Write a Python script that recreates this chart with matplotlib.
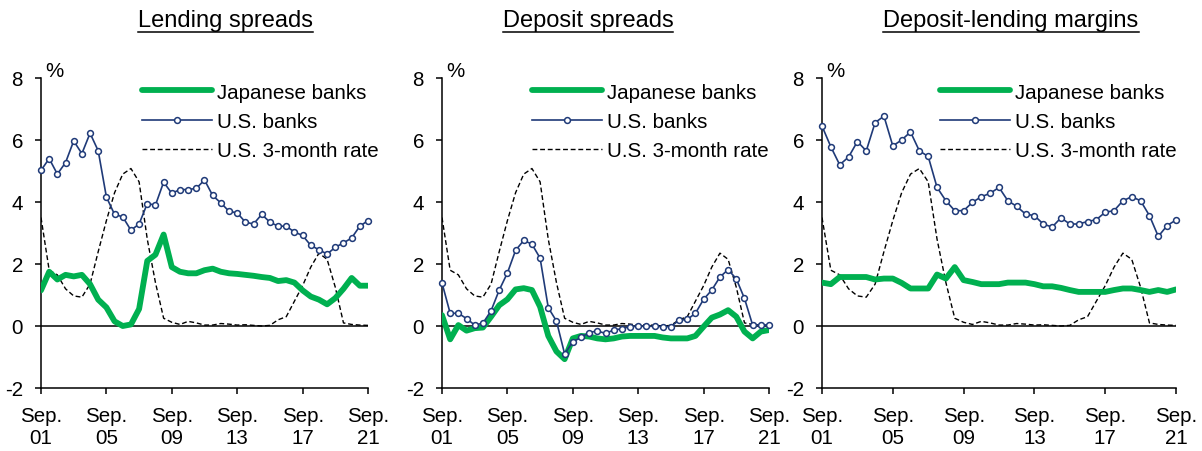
import numpy as np
import matplotlib
matplotlib.use("Agg")
import matplotlib.pyplot as plt

plt.rcParams['font.family'] = ['Liberation Sans', 'DejaVu Sans']

# semiannual points, Sep. 2001 .. Sep. 2021
periods = np.arange(41)
tick_pos = [0, 8, 16, 24, 32, 40]
tick_labels = ["Sep.\n01", "Sep.\n05", "Sep.\n09", "Sep.\n13", "Sep.\n17", "Sep.\n21"]

# U.S. 3-month rate (same in every panel)
us_rate = [3.5, 1.8, 1.65, 1.2, 0.97, 0.93, 1.35, 2.4, 3.4, 4.3, 4.9, 5.08, 4.65, 2.8, 1.4,
           0.25, 0.12, 0.05, 0.15, 0.1, 0.03, 0.03, 0.08, 0.06, 0.03, 0.04, 0.02, 0.0, 0.02,
           0.2, 0.3, 0.8, 1.3, 1.9, 2.35, 2.15, 1.25, 0.1, 0.05, 0.03, 0.02]

# Lending spreads
lend_jp = [1.15, 1.75, 1.5, 1.65, 1.6, 1.65, 1.35, 0.85, 0.6, 0.15, 0.0, 0.05, 0.55, 2.1, 2.3,
           2.95, 1.9, 1.75, 1.7, 1.7, 1.8, 1.85, 1.75, 1.7, 1.68, 1.65, 1.62, 1.58, 1.55, 1.45,
           1.48, 1.4, 1.15, 0.95, 0.85, 0.7, 0.9, 1.2, 1.55, 1.3, 1.3]
lend_us = [5.02, 5.4, 4.9, 5.27, 5.97, 5.56, 6.22, 5.65, 4.16, 3.6, 3.52, 3.09, 3.29, 3.95, 3.9,
           4.64, 4.28, 4.4, 4.4, 4.44, 4.71, 4.21, 3.97, 3.7, 3.65, 3.35, 3.29, 3.6, 3.35, 3.22,
           3.22, 3.03, 2.92, 2.6, 2.46, 2.32, 2.54, 2.68, 2.84, 3.22, 3.4]

# Deposit spreads
dep_jp = [0.35, -0.43, 0.03, -0.15, -0.07, -0.05, 0.3, 0.67, 0.86, 1.18, 1.22, 1.16, 0.62, -0.32,
          -0.82, -1.07, -0.4, -0.32, -0.34, -0.4, -0.43, -0.4, -0.34, -0.32, -0.32, -0.32, -0.32,
          -0.37, -0.4, -0.4, -0.4, -0.32, -0.02, 0.27, 0.37, 0.51, 0.3, -0.18, -0.4, -0.18, -0.13]
dep_us = [1.39, 0.41, 0.41, 0.24, 0.03, 0.09, 0.49, 1.16, 1.71, 2.44, 2.76, 2.64, 2.19, 0.59, 0.16,
          -0.9, -0.51, -0.37, -0.21, -0.16, -0.24, -0.13, -0.09, -0.02, -0.01, -0.01, -0.01, -0.02,
          -0.02, 0.19, 0.21, 0.41, 0.86, 1.16, 1.58, 1.82, 1.52, 0.89, 0.03, 0.03, 0.03]

# Deposit-lending margins
marg_jp = [1.4, 1.35, 1.58, 1.58, 1.58, 1.58, 1.5, 1.53, 1.53, 1.39, 1.21, 1.21, 1.21, 1.66, 1.53,
           1.9, 1.48, 1.42, 1.35, 1.35, 1.35, 1.4, 1.4, 1.4, 1.35, 1.28, 1.28, 1.23, 1.16, 1.1,
           1.1, 1.1, 1.1, 1.16, 1.21, 1.21, 1.16, 1.1, 1.16, 1.1, 1.18]
marg_us = [6.45, 5.78, 5.2, 5.45, 5.95, 5.65, 6.56, 6.77, 5.81, 6.0, 6.26, 5.65, 5.47, 4.47, 4.04,
           3.72, 3.72, 3.99, 4.17, 4.28, 4.47, 4.04, 3.86, 3.61, 3.56, 3.29, 3.19, 3.49, 3.29, 3.29,
           3.37, 3.43, 3.67, 3.72, 4.04, 4.17, 4.04, 3.56, 2.89, 3.24, 3.42]

titles = ["Lending spreads", "Deposit spreads", "Deposit-lending margins"]
green = "#00B050"
navy = "#1F3A78"
fs = 14.8

fig = plt.figure(figsize=(12.02, 4.52), dpi=100)
W, H = 1202, 452

# axes boxes in pixels: left, right
boxes = [(41, 368), (442, 769), (822, 1176)]
title_x = [225, 588, 1011]
leg_x = [142, 532, 940]
top_px, bot_px = 79, 389

panels = [(lend_jp, lend_us), (dep_jp, dep_us), (marg_jp, marg_us)]

for i, ((l, r), (jp, us)) in enumerate(zip(boxes, panels)):
    ax = fig.add_axes([l / W, 1 - bot_px / H, (r - l) / W, (bot_px - top_px) / H])
    ax.axhline(0, color="black", lw=1.1, zorder=1)
    ax.plot(periods, us_rate, color="black", lw=1.0, ls=(0, (3.5, 2)),
            label="U.S. 3-month rate", zorder=2)
    ax.plot(periods, jp, color=green, lw=4.2, solid_capstyle="round",
            label="Japanese banks", zorder=3)
    ax.plot(periods, us, color=navy, lw=1.2, marker="o", ms=4.2, mfc="white",
            mec=navy, mew=1.1, label="U.S. banks", zorder=4, clip_on=False)

    ax.set_xlim(0, 40)
    ax.set_ylim(-2, 8)
    ax.set_yticks([-2, 0, 2, 4, 6, 8])
    ax.set_yticklabels(["-2", "0", "2", "4", "6", "8"])
    ax.set_xticks(tick_pos)
    ax.set_xticklabels(tick_labels, linespacing=1.2)
    ax.tick_params(axis="both", labelsize=fs, direction="out", length=4,
                   width=1.1, colors="black")
    ax.tick_params(axis="y", pad=9)
    ax.tick_params(axis="x", pad=9)
    for s in ["top", "right"]:
        ax.spines[s].set_visible(False)
    for s in ["left", "bottom"]:
        ax.spines[s].set_linewidth(1.1)

    ax.text(0.012, 0.995, "%", transform=ax.transAxes, fontsize=fs,
            ha="left", va="bottom")

    handles, labels = ax.get_legend_handles_labels()
    order = [1, 2, 0]
    ax.legend([handles[k] for k in order], [labels[k] for k in order],
              loc="upper left", bbox_to_anchor=((leg_x[i] - l) / (r - l), 0.985),
              frameon=False, fontsize=fs, handlelength=3.4, handletextpad=0.25,
              labelspacing=0.5, borderpad=0, borderaxespad=0)

    t = fig.text(title_x[i] / W, 1 - 21 / H, titles[i], ha="center", va="center",
                 fontsize=17)
    # underline the title
    fig.canvas.draw()
    bb = t.get_window_extent()
    y_ul = bb.y0 - 1
    fig.add_artist(plt.Line2D([bb.x0 / W, bb.x1 / W], [y_ul / H, y_ul / H],
                              color="black", lw=1.1, transform=fig.transFigure))

fig.savefig("out.png", dpi=100)
